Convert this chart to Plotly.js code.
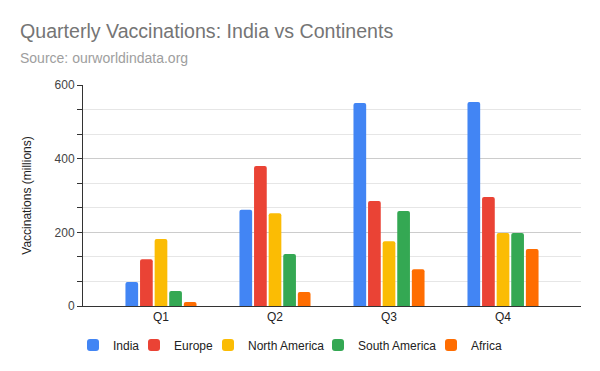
<!DOCTYPE html>
<html>
<head>
<meta charset="utf-8">
<script src="https://cdn.plot.ly/plotly-3.0.1.min.js"></script>
<style>html,body{margin:0;padding:0;background:#fff;}#chart{width:600px;height:371px;}</style>
</head>
<body>
<div id="chart"></div>
<script>
const quarters = ["Q1", "Q2", "Q3", "Q4"];
const seriesNames = ["India", "Europe", "North America", "South America", "Africa"];
const india = [65, 261, 551, 554];
const europe = [127, 380, 285, 296];
const northAmerica = [182, 252, 176, 198];
const southAmerica = [41, 141, 258, 198];
const africa = [11, 38, 100, 155];
const yTicks = [0, 200, 400, 600];
const colors = ["#4285F4", "#EA4335", "#FBBC04", "#34A853", "#FF6D01"];

const FONT = "Arial, 'Liberation Sans', sans-serif";
const values = [india, europe, northAmerica, southAmerica, africa];
const legendIds = ["legend", "legend2", "legend3", "legend4", "legend5"];
const legendLeft = [73, 134, 208, 318, 431];

const traces = values.map((v, i) => ({
  type: "bar",
  name: seriesNames[i],
  legend: legendIds[i],
  x: quarters.map((q, k) => k),
  y: v,
  marker: { color: colors[i], cornerradius: 2, line: { width: 0 } },
  hoverinfo: "skip"
}));

const layout = {
  width: 600, height: 371,
  margin: { l: 83, r: 19, t: 85, b: 65, pad: 0 },
  paper_bgcolor: "#fff", plot_bgcolor: "#fff",
  font: { family: FONT, size: 12, color: "#222" },
  barmode: "group",
  bargap: 0.36,
  bargroupgap: 0.13,
  title: {
    text: "Quarterly Vaccinations: India vs Continents",
    font: { family: FONT, size: 19.6, color: "#757575" },
    x: 20 / 600, xanchor: "left", xref: "container",
    y: 1 - 31 / 371, yanchor: "middle", yref: "container"
  },
  annotations: [{
    text: "Source: ourworldindata.org",
    xref: "paper", yref: "paper",
    x: (18 - 83) / 498, xanchor: "left",
    y: 1 + (85 - 58) / 221, yanchor: "middle",
    showarrow: false,
    font: { family: FONT, size: 14, color: "#9e9e9e" }
  }],
  xaxis: {
    range: [-0.684, 3.684],
    tickmode: "array",
    tickvals: [0, 1, 2, 3],
    ticktext: quarters,
    showgrid: false,
    zeroline: false,
    showline: true, linecolor: "#333", linewidth: 1,
    ticks: "", tickfont: { size: 12, color: "#222" },
    fixedrange: true
  },
  yaxis: {
    range: [0, 600],
    tickmode: "array",
    tickvals: yTicks,
    ticktext: yTicks.map(String),
    showgrid: true, gridcolor: "#cccccc", gridwidth: 1,
    zeroline: false,
    showline: true, linecolor: "#333", linewidth: 1,
    ticks: "outside", ticklen: 5, tickcolor: "#333",
    tickfont: { size: 12, color: "#444" },
    minor: { dtick: 200 / 3, tick0: 0, showgrid: true, gridcolor: "#e6e6e6", gridwidth: 1, ticks: "outside", ticklen: 5, tickcolor: "#333" },
    title: { text: "Vaccinations (millions)", font: { size: 12, color: "#222" }, standoff: 20 },
    fixedrange: true
  },
  showlegend: true
};

legendIds.forEach((id, i) => {
  layout[id] = {
    orientation: "h",
    xref: "container", yref: "container",
    x: legendLeft[i] / 600, xanchor: "left",
    y: 1 - 345 / 371, yanchor: "middle",
    font: { size: 12, color: "#222" },
    itemwidth: 30,
    bgcolor: "rgba(0,0,0,0)"
  };
});

Plotly.newPlot("chart", traces, layout, { staticPlot: true, displayModeBar: false });
</script>
</body>
</html>
